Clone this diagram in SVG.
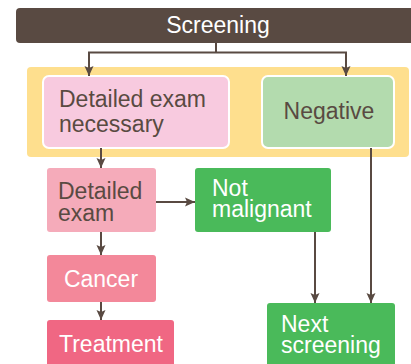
<svg xmlns="http://www.w3.org/2000/svg" width="411" height="364" viewBox="0 0 411 364">
<defs>
<marker id="ah" markerUnits="userSpaceOnUse" markerWidth="10" markerHeight="10" viewBox="0 0 10 10" refX="10" refY="5" orient="auto">
<path d="M0,0.5 L10,5 L0,9.5 L2,5 z" fill="#594a42"/>
</marker>
<style>
text{font-family:"Liberation Sans",Arial,sans-serif;font-size:23px;}
.dk{fill:#594a42;}
.wt{fill:#ffffff;}
.ln{fill:none;stroke:#594a42;stroke-width:2;}
.ar{marker-end:url(#ah);}
</style>
</defs>
<rect x="27" y="67" width="382" height="90" rx="4" fill="#fedf8e"/>
<g id="screening">
<rect x="16" y="8" width="400" height="35" rx="4" fill="#594a42"/>
<text x="218" y="33" text-anchor="middle" class="wt">Screening</text>
</g>
<g id="detailed-exam-necessary">
<rect x="43" y="76" width="186" height="72" rx="6" fill="#f8cadf" stroke="#ffffff" stroke-width="2"/>
<text x="59" y="107" class="dk">Detailed exam</text>
<text x="59" y="132" class="dk">necessary</text>
</g>
<g id="negative">
<rect x="262" y="76" width="132" height="72" rx="6" fill="#b3dbae" stroke="#ffffff" stroke-width="2"/>
<text x="329" y="119" text-anchor="middle" class="dk">Negative</text>
</g>
<g id="detailed-exam">
<rect x="47" y="168" width="109" height="64" rx="3" fill="#f5abba"/>
<text x="58" y="199" class="dk">Detailed</text>
<text x="58" y="221" class="dk">exam</text>
</g>
<g id="not-malignant">
<rect x="195" y="168" width="136" height="64" rx="3" fill="#4aba5a"/>
<text x="212" y="196" class="wt">Not</text>
<text x="212" y="217" class="wt">malignant</text>
</g>
<g id="cancer">
<rect x="47" y="255" width="109" height="47" rx="3" fill="#f3889a"/>
<text x="101" y="287" text-anchor="middle" class="wt">Cancer</text>
</g>
<g id="treatment">
<rect x="47" y="320" width="127" height="50" rx="3" fill="#f06783"/>
<text x="111" y="352" text-anchor="middle" class="wt">Treatment</text>
</g>
<g id="next-screening">
<rect x="267" y="303" width="128" height="67" rx="3" fill="#4aba5a"/>
<text x="281" y="332" class="wt">Next</text>
<text x="281" y="353" class="wt">screening</text>
</g>
<g id="connectors">
<path class="ln" d="M216,43 V52.5"/>
<path class="ln ar" d="M216,52.5 H89 V76"/>
<path class="ln ar" d="M216,52.5 H346 V76"/>
<path class="ln ar" d="M101,148 V168"/>
<path class="ln ar" d="M156,202 H195"/>
<path class="ln ar" d="M101,232 V255"/>
<path class="ln ar" d="M101,302 V320"/>
<path class="ln ar" d="M315,232 V303"/>
<path class="ln ar" d="M371,148 V303"/>
</g>
</svg>
